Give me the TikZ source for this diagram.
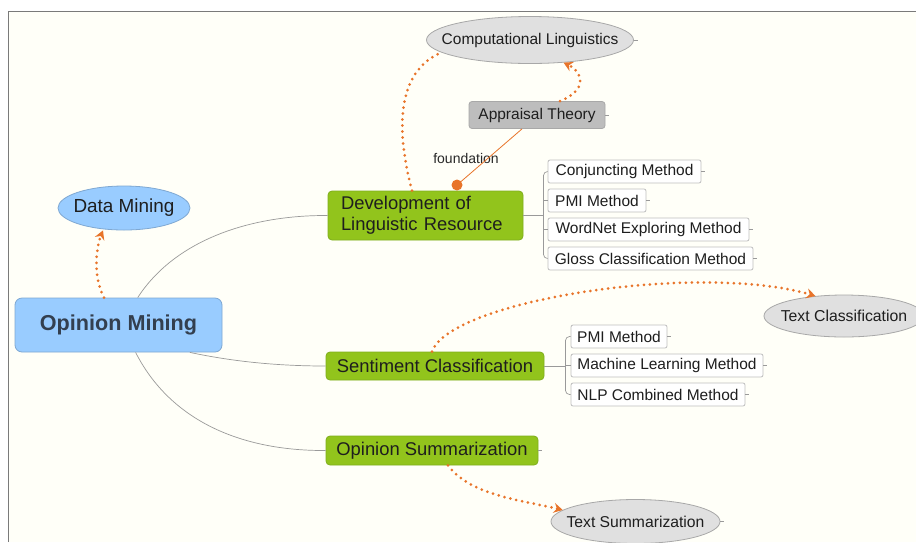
\documentclass[tikz,border=0pt]{standalone}
\usepackage{fontspec}
\setmainfont{Liberation Sans}
\usetikzlibrary{shapes.geometric,arrows.meta,calc}
\definecolor{bgc}{HTML}{FFFFF8}
\definecolor{frame}{HTML}{7A7A7A}
\definecolor{grn}{HTML}{92C41C}
\definecolor{grnb}{HTML}{7FAE1C}
\definecolor{blu}{HTML}{99CCFF}
\definecolor{blub}{HTML}{7FA8D2}
\definecolor{gry}{HTML}{E0E0E0}
\definecolor{gryb}{HTML}{A8A8A8}
\definecolor{dgry}{HTML}{BDBDBD}
\definecolor{orng}{HTML}{E8742A}
\definecolor{lnk}{HTML}{9A9A9A}
\definecolor{boxb}{HTML}{BEBEBE}
\definecolor{txt}{HTML}{1E1E1E}
\newcommand{\zw}[1]{\makebox[0pt]{#1}}
\begin{document}
\begin{tikzpicture}[x=1pt,y=-1pt,
  topic/.style={draw=grnb,fill=grn,rounded corners=4pt,line width=0.8pt,text=txt,font=\fontsize{18.4}{21}\selectfont,inner sep=0pt,align=left},
  sub/.style={draw=boxb,fill=white,rounded corners=2pt,line width=0.8pt,text=txt,font=\fontsize{15.5}{17}\selectfont,inner sep=0pt,minimum height=23pt},
  oval/.style={ellipse,draw=gryb,fill=gry,line width=0.8pt,text=txt,font=\fontsize{15.7}{17}\selectfont,inner sep=0pt},
  branch/.style={draw=lnk,line width=0.7pt},
  dots/.style={draw=orng,line width=3pt,line cap=round,dash pattern=on 0pt off 6pt},
  dtip/.style={-{Stealth[length=9pt,width=10pt,inset=3pt]}},
  stub/.style={draw=lnk,line width=0.6pt}]
\useasboundingbox (0,0) rectangle (916,542);
\fill[white] (0,0) rectangle (916,542);
\fill[bgc] (8,11) rectangle (916,542);
\draw[frame,line width=1pt] (8,542) -- (8,11) -- (916,11);

% nodes
\node[oval,minimum width=207pt,minimum height=47pt,font=\fontsize{15.5}{17}\selectfont] (cl) at (530,40) {\zw{Computational Linguistics}};
\node[draw=gryb,fill=dgry,rounded corners=3pt,line width=0.8pt,text=txt,font=\fontsize{15.5}{17}\selectfont,inner sep=0pt,minimum width=136pt,minimum height=27pt] (at) at (537,115) {Appraisal Theory};
\node[topic,minimum width=195pt,minimum height=49pt,text width=169pt] (dev) at (425.5,215.5) {Development of\\Linguistic Resource};
\node[sub,minimum width=153pt] (c1) at (624.5,171.5) {Conjuncting Method};
\node[sub,minimum width=98pt] (c2) at (597,200.5) {PMI Method};
\node[sub,minimum width=201pt] (c3) at (648.5,229.5) {WordNet Exploring Method};
\node[sub,minimum width=205pt] (c4) at (650.5,258.5) {Gloss Classification Method};
\node[ellipse,draw=blub,fill=blu,line width=0.8pt,text=txt,font=\fontsize{18.9}{20}\selectfont,inner sep=0pt,minimum width=132pt,minimum height=44pt] (dm) at (124,208) {\zw{Data Mining}};
\node[draw=blub,fill=blu,rounded corners=7pt,line width=0.8pt,text={rgb,255:red,51;green,63;blue,79},font=\fontsize{21.6}{23}\selectfont\bfseries,inner sep=0pt,minimum width=207pt,minimum height=54pt] (om) at (118.5,325) {Opinion Mining};
\node[topic,minimum width=218pt,minimum height=28pt] (sc) at (435,366) {Sentiment Classification};
\node[sub,minimum width=96pt] (s1) at (619,336.5) {PMI Method};
\node[sub,minimum width=192pt] (s2) at (667,365.5) {Machine Learning Method};
\node[sub,minimum width=174pt] (s3) at (658,394.5) {NLP Combined Method};
\node[oval,minimum width=160pt,minimum height=42pt,font=\fontsize{15.8}{17}\selectfont] (tc) at (844,316) {\zw{Text Classification}};
\node[topic,minimum width=212pt,minimum height=29pt] (os) at (432,450.5) {Opinion Summarization};
\node[oval,minimum width=169pt,minimum height=44pt] (ts) at (635.5,521.5) {\zw{Text Summarization}};
\node[font=\fontsize{14}{16}\selectfont,text={rgb,255:red,40;green,40;blue,40},inner sep=0pt] (fd) at (466,158) {foundation};

% branches from the central topic
\draw[branch] (om.55) .. controls (175,240) and (250,215) .. (dev.west);
\draw[branch] (om.-21) .. controls (235,362) and (280,366) .. (sc.west);
\draw[branch] (om.-58) .. controls (170,420) and (240,451) .. (os.west);

% brackets to sub topics
\coordinate (j1) at (543.5,215.5);
\draw[branch] (dev.east) -- (j1);
\draw[branch,rounded corners=4pt] (c1.west) -| (j1) |- (c4.west);
\draw[branch] (c2.west) -- (c2.west -| j1);
\draw[branch] (c3.west) -- (c3.west -| j1);
\coordinate (j2) at (565.5,366);
\draw[branch] (sc.east) -- (j2);
\draw[branch,rounded corners=4pt] (s1.west) -| (j2) |- (s3.west);
\draw[branch] (s2.west) -- (s2.west -| j2);

% little stubs at the right of nodes
\foreach \n in {cl,at,c1,c2,c3,c4,s1,s2,s3,os,ts}
  \draw[stub] (\n.east) -- ++(4,0);

% relationships
\draw[dots,dtip] (om.north -| 104,0) .. controls (92,275) and (97,245) .. (dm.south -| 103,0);
\draw[dots] (dev.north -| 412,0) .. controls (396,130) and (396,72) .. (cl.-172);
\draw[dots,dtip] (at.north -| 560,0) .. controls (588,90) and (583,72) .. (cl.-34);
\draw[orng,line width=0.8pt] (at.south -| 522,0) -- (457,185) coordinate (fdot);
\fill[orng] (fdot) circle (5.5pt);
\draw[dots,dtip] (sc.north -| 432,0) .. controls (450,300) and (700,262) .. (tc.145);
\draw[dots,dtip] (os.south -| 448,0) .. controls (470,495) and (520,500) .. (ts.171);
\end{tikzpicture}
\end{document}
